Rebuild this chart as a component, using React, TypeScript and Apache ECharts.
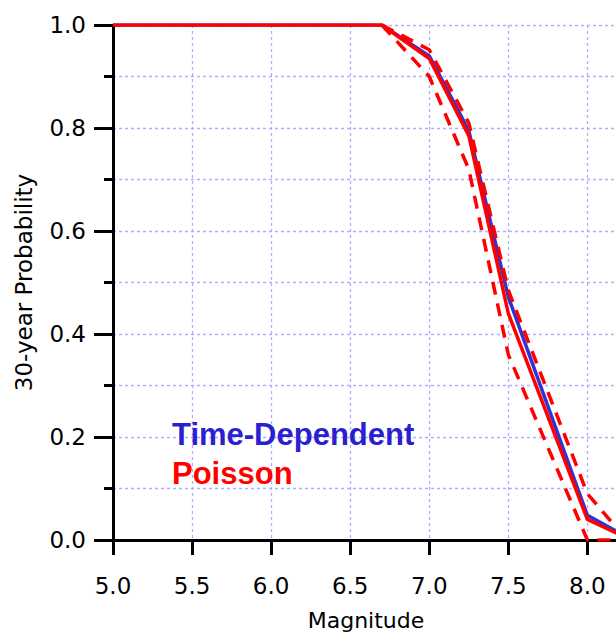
import React, { useEffect, useRef } from 'react';
import * as echarts from 'echarts';

// Magnitude thresholds
const magnitudes = [5.0, 6.7, 7.0, 7.25, 7.5, 8.0, 8.25];
const timeDependent = [1.0, 1.0, 0.94, 0.795, 0.472, 0.048, 0.006];
const poisson = [1.0, 1.0, 0.935, 0.785, 0.44, 0.04, 0.004];

// Poisson uncertainty bounds (dashed)
const boundMagnitudes = [6.7, 7.0, 7.25, 7.5, 8.0, 8.25];
const poissonUpper = [1.0, 0.952, 0.81, 0.485, 0.09, 0.0];
const poissonLower = [1.0, 0.9, 0.72, 0.36, 0.0, 0.0];

const xTickLabels = ['5.0', '5.5', '6.0', '6.5', '7.0', '7.5', '8.0'];

const BLUE = '#3232d2';
const BLUE_TEXT = '#2b1fcf';
const RED = '#ff0000';
const GRID = '#aeaeff';

const pair = (xs: number[], ys: number[]) => xs.map((x, i) => [x, ys[i]]);

export default function App() {
  const ref = useRef<HTMLDivElement>(null);
  useEffect(() => {
    const chart = echarts.init(ref.current!, null, { renderer: 'svg' });
    const axisFont = { fontFamily: 'DejaVu Sans', fontSize: 23, color: '#000' };
    chart.setOption({
      animation: false,
      backgroundColor: '#fff',
      grid: {
        left: 113,
        top: 25,
        width: 506,
        height: 515,
        containLabel: false,
        outerBoundsMode: 'none',
      },
      legend: {
        data: [
          { name: 'Time-Dependent', textStyle: { color: BLUE_TEXT } },
          { name: 'Poisson', textStyle: { color: RED } },
        ],
        orient: 'vertical',
        left: 167,
        top: 419,
        padding: 0,
        itemWidth: 0,
        itemHeight: 14,
        itemGap: 8,
        icon: 'none',
        selectedMode: false,
        textStyle: { fontFamily: 'Liberation Sans', fontWeight: 'bold', fontSize: 31 },
      },
      xAxis: {
        type: 'value',
        min: 5,
        max: 8.2,
        interval: 0.5,
        name: 'Magnitude',
        nameLocation: 'middle',
        nameGap: 69,
        nameTextStyle: { fontFamily: 'DejaVu Sans', fontSize: 22, color: '#000' },
        axisLine: { show: true, onZero: false, lineStyle: { color: '#000', width: 3 } },
        axisTick: { show: true, length: 15, lineStyle: { color: '#000', width: 3 } },
        axisLabel: {
          ...axisFont,
          margin: 34,
          showMaxLabel: false,
          formatter: (v: number) => {
            const s = v.toFixed(1);
            return xTickLabels.includes(s) && Math.abs(v * 2 - Math.round(v * 2)) < 1e-6 ? s : '';
          },
        },
        splitLine: { show: true, lineStyle: { color: GRID, width: 1.3, type: [3, 3] } },
      },
      yAxis: {
        type: 'value',
        min: 0,
        max: 1,
        interval: 0.2,
        name: '30-year Probability',
        nameLocation: 'middle',
        nameGap: 78,
        nameTextStyle: { fontFamily: 'DejaVu Sans', fontSize: 23, color: '#000' },
        axisLine: { show: true, lineStyle: { color: '#000', width: 3 } },
        axisTick: { show: true, length: 19, lineStyle: { color: '#000', width: 3 } },
        minorTick: { show: true, splitNumber: 2, length: 9, lineStyle: { color: '#000', width: 3 } },
        axisLabel: { ...axisFont, margin: 27, formatter: (v: number) => v.toFixed(1) },
        splitLine: { show: true, lineStyle: { color: GRID, width: 1.3, type: [3, 3] } },
        minorSplitLine: { show: true, lineStyle: { color: GRID, width: 1.3, type: [3, 3] } },
      },
      series: [
        {
          name: 'Time-Dependent',
          type: 'line',
          data: pair(magnitudes, timeDependent),
          symbol: 'none',
          lineStyle: { color: BLUE, width: 3.5 },
          itemStyle: { color: BLUE },
          z: 3,
        },
        {
          name: 'Poisson upper',
          type: 'line',
          data: pair(boundMagnitudes, poissonUpper),
          symbol: 'none',
          lineStyle: { color: RED, width: 3.5, type: [13, 9] },
          z: 4,
        },
        {
          name: 'Poisson lower',
          type: 'line',
          data: pair(boundMagnitudes, poissonLower),
          symbol: 'none',
          lineStyle: { color: RED, width: 3.5, type: [13, 9] },
          z: 4,
        },
        {
          name: 'Poisson',
          type: 'line',
          data: pair(magnitudes, poisson),
          symbol: 'none',
          lineStyle: { color: RED, width: 3.5 },
          itemStyle: { color: RED },
          z: 5,
        },
      ],
    });
    return () => chart.dispose();
  }, []);
  return (
    <div
      ref={ref}
      style={{ position: 'fixed', left: 0, top: 0, width: 616, height: 632, background: '#fff' }}
    />
  );
}
